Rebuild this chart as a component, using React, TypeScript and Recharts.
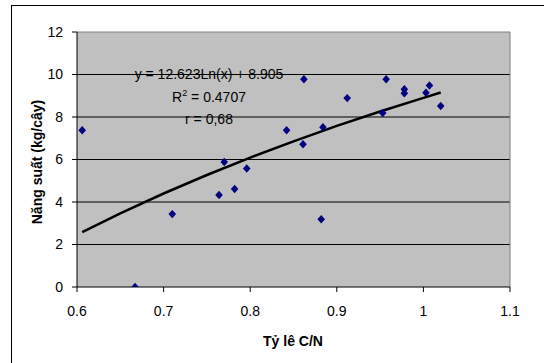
import { ComposedChart, Scatter, Line, XAxis, YAxis, CartesianGrid, ReferenceLine } from 'recharts'

// measured points: C/N ratio vs yield (kg/tree)
const cnRatio = [0.606, 0.667, 0.71, 0.764, 0.77, 0.782, 0.796, 0.842, 0.861, 0.862, 0.882, 0.884, 0.912, 0.953, 0.957, 0.978, 0.978, 1.003, 1.007, 1.02]
const yieldKg = [7.38, 0, 3.43, 4.33, 5.88, 4.61, 5.58, 7.38, 6.72, 9.78, 3.19, 7.52, 8.89, 8.19, 9.78, 9.31, 9.12, 9.14, 9.48, 8.52]

// log trendline as drawn on the chart
const trendX = [0.606, 0.65, 0.7, 0.75, 0.8, 0.85, 0.9, 0.95, 1.0, 1.02]
const trendY = [2.58, 3.47, 4.4, 5.27, 6.09, 6.85, 7.58, 8.26, 8.9, 9.15]

const xTicks = [0.6, 0.7, 0.8, 0.9, 1, 1.1]
const yTicks = [0, 2, 4, 6, 8, 10, 12]
const gridLines = [2, 4, 6, 8, 10]

const points = cnRatio.map((x, i) => ({ x, y: yieldKg[i] }))
const trend = trendX.map((x, i) => ({ x, y: trendY[i] }))

const FONT = '"Liberation Sans", Arial, sans-serif'

function Diamond(props: any) {
  const { cx, cy } = props
  if (cx == null || cy == null) return null
  return <polygon points={`${cx},${cy - 4.2} ${cx + 3.8},${cy} ${cx},${cy + 4.2} ${cx - 3.8},${cy}`} fill="#000080" />
}

export default function App() {
  const tickStyle = { fontSize: 14, fill: '#000', fontFamily: FONT }
  return (
    <div style={{ position: 'absolute', left: 0, top: 0, width: 544, height: 363, overflow: 'hidden', background: '#fff', fontFamily: FONT }}>
      <div style={{ position: 'absolute', left: 11, top: 5, width: 600, height: 400, border: '1px solid #000' }} />
      <ComposedChart width={544} height={363} margin={{ top: 32, right: 34, bottom: 46, left: 37 }} style={{ position: 'absolute', left: 0, top: 0 }}>
        <CartesianGrid fill="#C0C0C0" horizontal={false} vertical={false} stroke="none" />
        {gridLines.map(v => (
          <ReferenceLine key={v} y={v} stroke="#000" strokeWidth={1} />
        ))}
        <ReferenceLine y={12} stroke="#808080" />
        <ReferenceLine x={1.1} stroke="#808080" />
        <XAxis
          type="number"
          dataKey="x"
          domain={[0.6, 1.1]}
          ticks={xTicks}
          tickFormatter={v => String(Math.round(v * 10) / 10)}
          height={30}
          stroke="#000"
          tickSize={5}
          tickMargin={14}
          tick={tickStyle}
          allowDataOverflow
        />
        <YAxis
          type="number"
          dataKey="y"
          domain={[0, 12]}
          ticks={yTicks}
          width={40}
          stroke="#000"
          tickSize={5}
          tickMargin={9}
          tick={tickStyle}
          allowDataOverflow
        />
        <Line data={trend} dataKey="y" type="linear" stroke="#000" strokeWidth={2.5} dot={false} isAnimationActive={false} />
        <Scatter data={points} dataKey="y" shape={Diamond} isAnimationActive={false} />
      </ComposedChart>

      <div style={{ position: 'absolute', left: 109, top: 65, width: 200, textAlign: 'center', fontSize: 14, lineHeight: '18px', color: '#000' }}>
        y = 12.623Ln(x) + 8.905
      </div>
      <div style={{ position: 'absolute', left: 109, top: 88, width: 200, textAlign: 'center', fontSize: 14, lineHeight: '18px', color: '#000' }}>
        R<sup style={{ fontSize: 9, lineHeight: 0 }}>2</sup> = 0.4707
      </div>
      <div style={{ position: 'absolute', left: 109, top: 110, width: 200, textAlign: 'center', fontSize: 14, lineHeight: '18px', color: '#000' }}>
        r = 0,68
      </div>

      <div style={{ position: 'absolute', left: 37 - 100, top: 162 - 10, width: 200, height: 20, textAlign: 'center', fontSize: 14, lineHeight: '20px', fontWeight: 'bold', transform: 'rotate(-90deg)', color: '#000' }}>
        Năng suất (kg/cây)
      </div>
      <div style={{ position: 'absolute', left: 193, top: 331, width: 200, textAlign: 'center', fontSize: 14, lineHeight: '20px', fontWeight: 'bold', color: '#000' }}>
        Tỷ lê C/N
      </div>
    </div>
  )
}
